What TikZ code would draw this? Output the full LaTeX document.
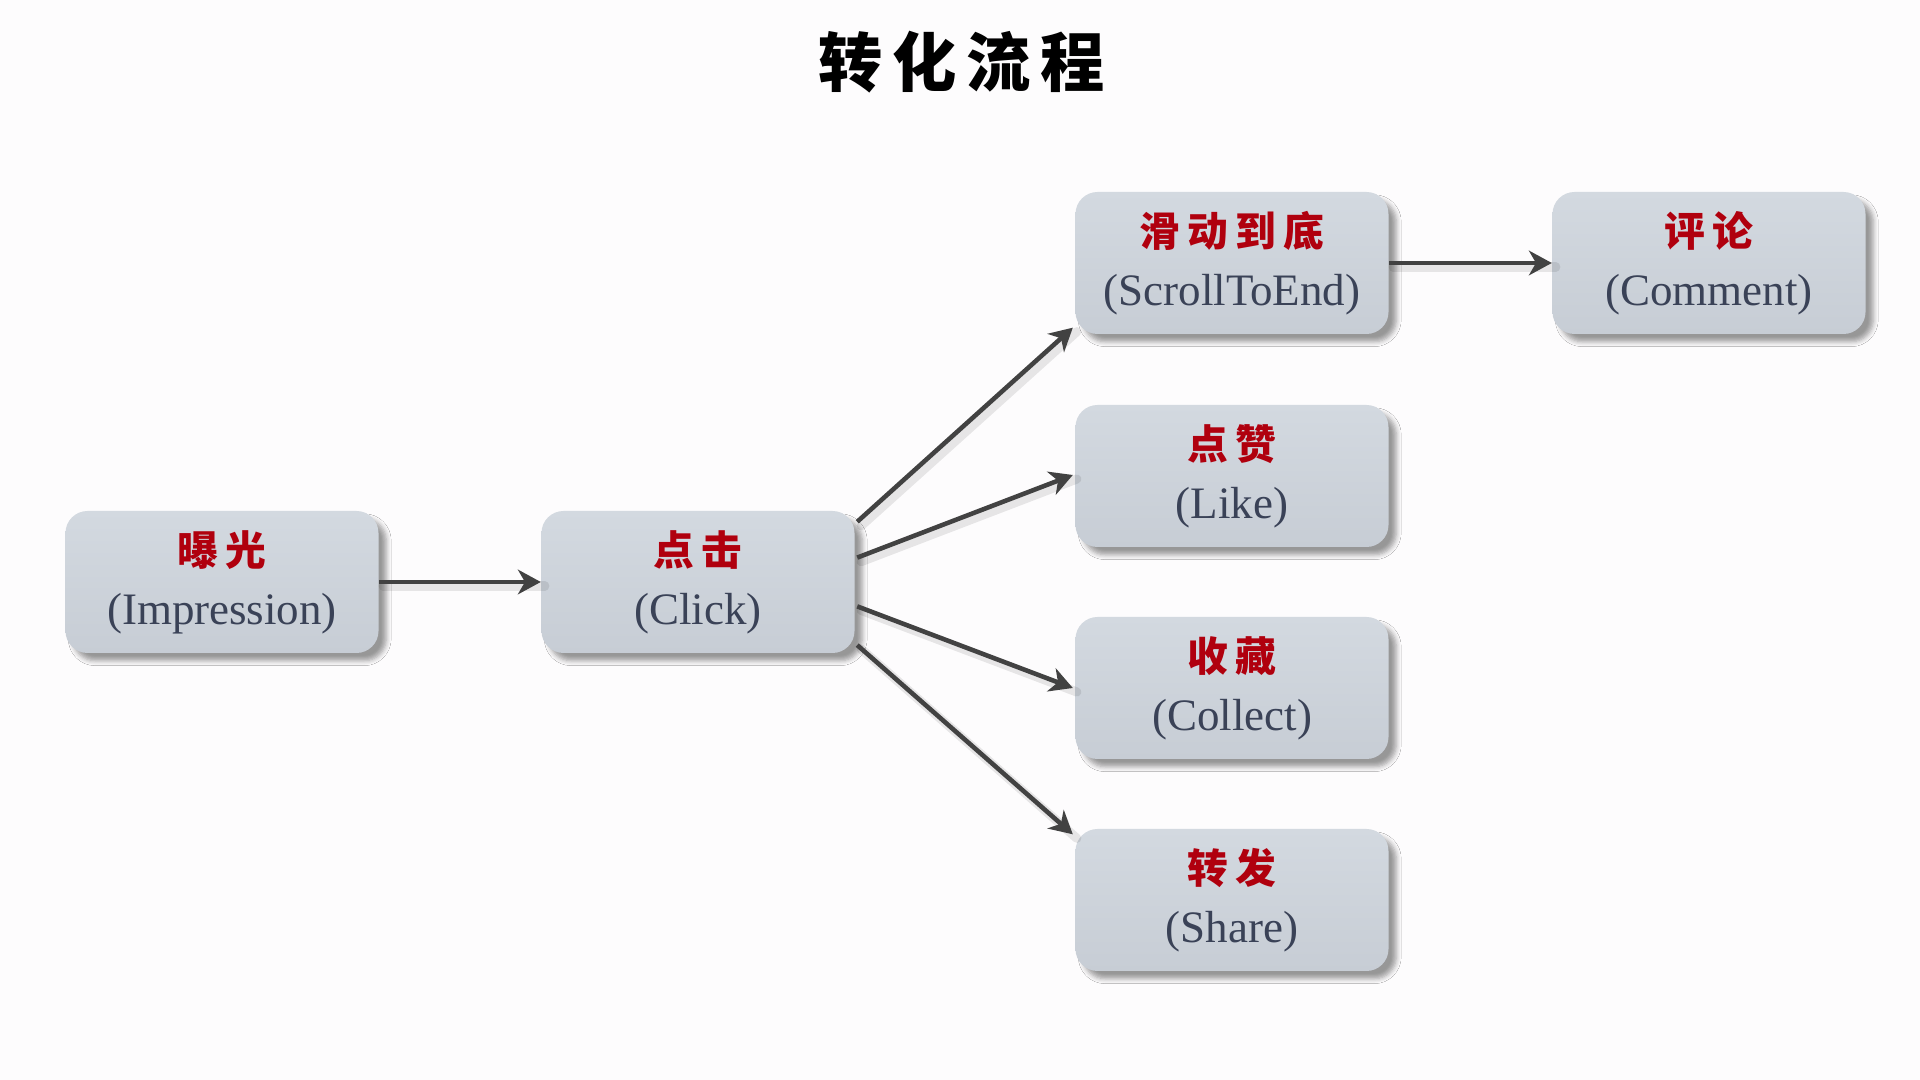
\documentclass[tikz,border=0pt]{standalone}
\usepackage{fontspec}
\setmainfont{Liberation Serif}
\newfontfamily\cnfont[LetterSpace=18]{Noto Sans CJK SC}
\newfontfamily\titlefont[LetterSpace=15]{Noto Sans CJK SC}
\usetikzlibrary{shadows.blur,arrows.meta,calc}
\definecolor{bg}{HTML}{FDFCFD}
\definecolor{boxtop}{HTML}{D3D9E0}
\definecolor{boxbot}{HTML}{C7CDD5}
\definecolor{cnred}{HTML}{B0000E}
\definecolor{entxt}{HTML}{3A4257}
\definecolor{arr}{HTML}{424242}
\tikzset{
  stepbox/.style={rectangle, rounded corners=0.22cm, minimum width=3.13cm, minimum height=1.42cm,
    top color=boxtop, bottom color=boxbot, draw=none, align=center, inner sep=0pt,
    blur shadow={shadow xshift=2.2pt, shadow yshift=-2.2pt, shadow blur radius=1.4pt, shadow blur steps=5, shadow opacity=40},
    font=\fontsize{12.8}{16.8}\selectfont, text=entxt},
  link/.style={draw=arr, line width=1.3pt, -{Stealth[length=6.5pt,width=7pt,inset=2pt]}},
  linkshadow/.style={draw=black, line width=2.6pt, opacity=0.09, line cap=round,
    transform canvas={shift={(0.04,-0.04)}}},
}
\newcommand{\cnline}[1]{{\cnfont\bfseries\color{cnred}\fontsize{11.6}{14}\selectfont #1}}
\begin{document}
\begin{tikzpicture}
\fill[bg] (0,0) rectangle (19.2,10.8);
\useasboundingbox (0,0) rectangle (19.2,10.8);

\node (title) at (9.62,10.18) {\titlefont\bfseries\fontsize{18.3}{22}\selectfont 转化流程};

\node[stepbox] (imp) at (2.22,4.98) {\cnline{曝光}\\(Impression)};
\node[stepbox] (click) at (6.98,4.98) {\cnline{点击}\\(Click)};
\node[stepbox] (scroll) at (12.32,8.17) {\cnline{滑动到底}\\(ScrollToEnd)};
\node[stepbox] (like) at (12.32,6.04) {\cnline{点赞}\\(Like)};
\node[stepbox] (collect) at (12.32,3.92) {\cnline{收藏}\\(Collect)};
\node[stepbox] (share) at (12.32,1.80) {\cnline{转发}\\(Share)};
\node[stepbox] (comment) at (17.09,8.17) {\cnline{评论}\\(Comment)};

\coordinate (c1) at ($(click.north east)!0.08!(click.south east)+(0.02,0)$);
\coordinate (c2) at ($(click.north east)!0.33!(click.south east)+(0.02,0)$);
\coordinate (c3) at ($(click.north east)!0.67!(click.south east)+(0.02,0)$);
\coordinate (c4) at ($(click.north east)!0.94!(click.south east)+(0.02,0)$);
\coordinate (e1) at ($(scroll.south west)+(-0.02,0.07)$);
\coordinate (e2) at ($(like.west)+(-0.02,0.01)$);
\coordinate (e3) at ($(collect.west)+(-0.02,0)$);
\coordinate (e4) at ($(share.north west)+(-0.02,-0.06)$);

\draw[linkshadow] (imp.east) -- (click.west);
\draw[linkshadow] (scroll.east) -- (comment.west);
\draw[linkshadow] (c1) -- (e1);
\draw[linkshadow] (c2) -- (e2);
\draw[linkshadow] (c3) -- (e3);
\draw[linkshadow] (c4) -- (e4);

\draw[link] (imp.east) -- (click.west);
\draw[link] (scroll.east) -- (comment.west);
\draw[link] (c1) -- (e1);
\draw[link] (c2) -- (e2);
\draw[link] (c3) -- (e3);
\draw[link] (c4) -- (e4);
\end{tikzpicture}
\end{document}
